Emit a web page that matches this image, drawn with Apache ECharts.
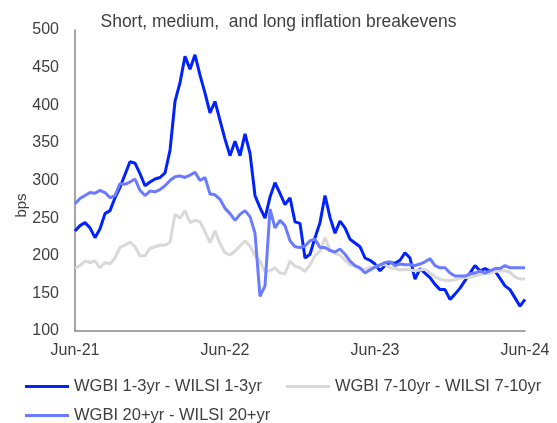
<!DOCTYPE html>
<html lang="en">
<head>
    <meta charset="UTF-8">
    <title>Inflation breakevens</title>
    <script src="https://cdn.jsdelivr.net/npm/echarts@6/dist/echarts.min.js"></script>
    <style>
        html, body { margin: 0; padding: 0; background: #fff; }
        #fig1 { width: 557px; height: 423px; }
    </style>
</head>
<body>
    <div id="fig1"></div>
    <script>
        // x axis tick labels (one per year, every 12 months)
        const tickLabels = ['Jun-21', 'Jun-22', 'Jun-23', 'Jun-24'];
        const stepMonths = 0.4; // samples are every 0.4 months from Jun-21

        // WGBI 1-3yr - WILSI 1-3yr
        const short13 = [
            233, 240, 244, 237, 224, 236, 256, 260, 277, 291,
            308, 325, 323, 309, 293, 298, 302, 304, 310, 340,
            405, 430, 465, 448, 467, 440, 416, 390, 405, 380,
            355, 333, 352, 333, 362, 336, 280, 264, 250, 278,
            297, 283, 268, 277, 245, 243, 197, 202, 224, 244,
            280, 251, 230, 246, 237, 222, 217, 212, 197, 194,
            189, 180, 187, 191, 190, 194, 204, 197, 169, 183,
            177, 171, 162, 155, 155, 142, 149, 157, 167, 177,
            187, 180, 183, 180, 180, 170, 160, 155, 144, 133,
            142
        ];
        // WGBI 7-10yr - WILSI 7-10yr
        const medium710 = [
            183, 187, 193, 191, 193, 184, 191, 189, 197, 211,
            214, 218, 212, 200, 200, 210, 212, 214, 214, 218,
            255, 250, 260, 244, 247, 245, 232, 217, 233, 216,
            204, 201, 206, 213, 220, 213, 200, 193, 179, 180,
            184, 177, 176, 193, 186, 184, 179, 188, 200, 206,
            224, 208, 203, 201, 194, 188, 186, 182, 182, 184,
            185, 188, 188, 184, 183, 181, 182, 181, 180, 181,
            182, 177, 172, 169, 167, 167, 168, 170, 171, 171,
            173, 175, 176, 177, 179, 180, 180, 178, 172, 169,
            169
        ];
        // WGBI 20+yr - WILSI 20+yr
        const long20 = [
            269, 276, 280, 284, 283, 287, 284, 277, 280, 296,
            295, 298, 302, 287, 280, 286, 285, 288, 293, 300,
            305, 306, 304, 307, 311, 300, 304, 282, 281, 275,
            263, 256, 247, 255, 260, 252, 230, 146, 160, 262,
            237, 247, 240, 220, 212, 211, 213, 220, 222, 211,
            211, 207, 205, 209, 202, 193, 187, 184, 177, 181,
            185, 188, 191, 192, 187, 189, 188, 188, 187, 189,
            192, 196, 187, 184, 184, 177, 173, 173, 173, 176,
            177, 180, 177, 180, 183, 183, 187, 184, 184, 184,
            184
        ];

        const seriesNames = ['WGBI 1-3yr - WILSI 1-3yr', 'WGBI 7-10yr - WILSI 7-10yr', 'WGBI 20+yr - WILSI 20+yr'];
        const seriesColors = ['#0022ff', '#d9d9d9', '#6b7bff'];

        function toPairs (values) {
            return values.map((v, i) => [i * stepMonths, v]);
        }

        let fig1 = echarts.init(document.getElementById('fig1'), null, {renderer: 'canvas'});
        const font = 'Liberation Sans, Arial, sans-serif';
        const legendText = {fontFamily: font, fontSize: 16.5, color: '#404040'};

        let option = {
            animation: false,
            textStyle: {fontFamily: font},
            title: {
                text: 'Short, medium,  and long inflation breakevens',
                left: 'center',
                top: 8,
                textStyle: {fontFamily: font, fontSize: 17.5, fontWeight: 'normal', color: '#404040'}
            },
            legend: [
                {
                    left: 20,
                    top: 373,
                    icon: 'rect',
                    itemWidth: 44,
                    itemHeight: 3,
                    itemGap: 24,
                    data: [seriesNames[0], seriesNames[1]],
                    textStyle: legendText
                },
                {
                    left: 20,
                    top: 402,
                    icon: 'rect',
                    itemWidth: 44,
                    itemHeight: 3,
                    data: [seriesNames[2]],
                    textStyle: legendText
                }
            ],
            grid: {
                left: 75,
                right: 32,
                top: 30,
                bottom: 92,
                containLabel: false
            },
            xAxis: {
                type: 'value',
                min: 0,
                max: 36,
                interval: 12,
                splitLine: {show: false},
                axisTick: {show: false},
                axisLine: {lineStyle: {color: '#868686', width: 1.5}},
                axisLabel: {
                    margin: 12,
                    fontSize: 16,
                    color: '#404040',
                    formatter: (v) => tickLabels[Math.round(v / 12)]
                }
            },
            yAxis: {
                type: 'value',
                min: 100,
                max: 500,
                interval: 50,
                name: 'bps',
                nameLocation: 'middle',
                nameRotate: 90,
                nameGap: 46,
                nameMoveOverlap: false,
                nameTextStyle: {fontSize: 15, color: '#404040', padding: [0, 50, 0, 0]},
                splitLine: {show: false},
                axisTick: {show: false},
                axisLine: {show: true, lineStyle: {color: '#868686', width: 1.5}},
                axisLabel: {margin: 16, fontSize: 16, color: '#404040'}
            },
            series: [short13, medium710, long20].map((vals, i) => ({
                name: seriesNames[i],
                type: 'line',
                symbol: 'none',
                color: seriesColors[i],
                lineStyle: {width: 3, color: seriesColors[i]},
                data: toPairs(vals)
            }))
        };
        fig1.setOption(option);
    </script>
</body>
</html>
